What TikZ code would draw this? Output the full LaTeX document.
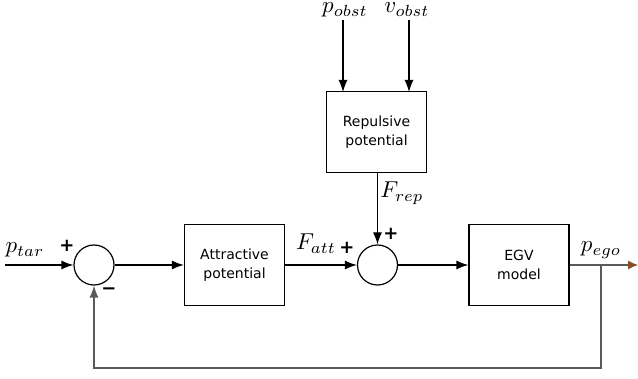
\documentclass[tikz,border=0pt]{standalone}
\usepackage{fontspec}
\setsansfont{DejaVu Sans}
\usetikzlibrary{arrows.meta}
\definecolor{linegray}{HTML}{5A5A5A}
\definecolor{tipbrown}{HTML}{8B4A1F}
\tikzset{
  blk/.style={draw, line width=1.2pt, minimum width=100pt, minimum height=81pt, inner sep=0pt,
    align=center, font=\sffamily\fontsize{14}{19}\selectfont},
  sumnode/.style={draw, circle, line width=1.2pt, minimum size=40pt, inner sep=0pt},
  conn/.style={line width=1.2pt, -{Latex[length=12pt,width=9pt]}},
  mlab/.style={font=\normalsize, inner sep=0pt, scale=2.3, anchor=base},
  sgn/.style={font=\sffamily\bfseries\fontsize{18}{18}\selectfont, inner sep=0pt}
}
\begin{document}
\begin{tikzpicture}[x=1pt,y=-1pt]
\useasboundingbox (0,0) rectangle (638,379);
\node[sumnode] (s1) at (94,265) {};
\node[sumnode] (s2) at (377.5,265) {};
\node[blk] (att) at (234.5,265) {Attractive\\potential};
\node[blk] (rep) at (376.5,132) {Repulsive\\potential};
\node[blk] (egv) at (519,265) {EGV\\model};
\coordinate (in) at (5,265);
\coordinate (out) at (638,265);
\coordinate (fb) at (601,265);
\coordinate (fbr) at (601,368);
\coordinate (fbl) at (94,368);
\coordinate (po) at (343,20);
\coordinate (vo) at (409,20);
\coordinate (poe) at (343,92);
\coordinate (voe) at (409,92);
% labels
\node[mlab] (ltar) at (25,253) {$p_{tar}$};
\node[mlab] (latt) at (316,250) {$F_{att}$};
\node[mlab] (lrep) at (402,198) {$F_{rep}$};
\node[mlab] (lpo) at (345,13) {$p_{obst}$};
\node[mlab] (lvo) at (407,13) {$v_{obst}$};
\node[mlab] (lego) at (601,252) {$p_{ego}$};
\node[sgn] (p1) at (67,246) {+};
\node[sgn] (m1) at (109,291) {\textminus};
\node[sgn] (p2) at (347,248) {+};
\node[sgn] (p3) at (391,234) {+};
% connectors
\draw[conn] (in) -- (s1.west);
\draw[conn] (s1.east) -- (att.west);
\draw[conn] (att.east) -- (s2.west);
\draw[conn] (rep.south -| s2) -- (s2.north);
\draw[conn] (s2.east) -- (egv.west);
\draw[conn] (po) -- (poe);
\draw[conn] (vo) -- (voe);
\draw[line width=1.2pt, color=linegray, -{Latex[length=10pt,width=9pt,fill=tipbrown,color=tipbrown]}] (egv.east) -- (out);
\draw[conn, color=linegray] (fb) -- (fbr) -- (fbl) -- (s1.south);
\end{tikzpicture}
\end{document}
